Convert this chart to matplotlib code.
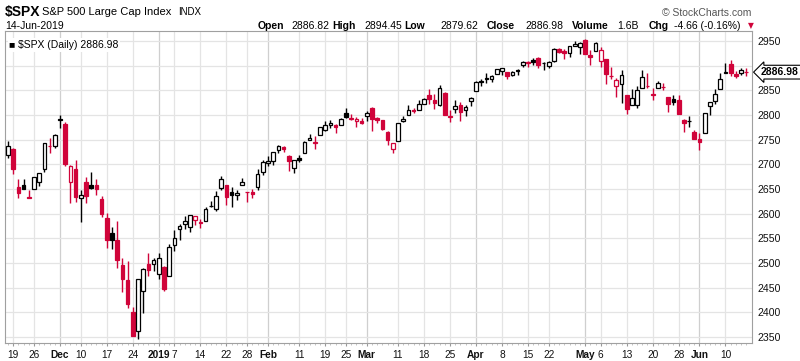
import numpy as np
import matplotlib
matplotlib.use("Agg")
import matplotlib.pyplot as plt
import matplotlib.transforms as mtransforms

plt.rcParams['font.family'] = ['Liberation Sans', 'DejaVu Sans']

# trading days, 16-Nov-2018 .. 14-Jun-2019
dates = (
    ['2018-11-%02d' % d for d in [16, 19, 20, 21, 23, 26, 27, 28, 29, 30]] +
    ['2018-12-%02d' % d for d in [3, 4, 6, 7, 10, 11, 12, 13, 14, 17, 18, 19, 20, 21, 24, 26, 27, 28, 31]] +
    ['2019-01-%02d' % d for d in [2, 3, 4, 7, 8, 9, 10, 11, 14, 15, 16, 17, 18, 22, 23, 24, 25, 28, 29, 30, 31]] +
    ['2019-02-%02d' % d for d in [1, 4, 5, 6, 7, 8, 11, 12, 13, 14, 15, 19, 20, 21, 22, 25, 26, 27, 28]] +
    ['2019-03-%02d' % d for d in [1, 4, 5, 6, 7, 8, 11, 12, 13, 14, 15, 18, 19, 20, 21, 22, 25, 26, 27, 28, 29]] +
    ['2019-04-%02d' % d for d in [1, 2, 3, 4, 5, 8, 9, 10, 11, 12, 15, 16, 17, 18, 22, 23, 24, 25, 26, 29, 30]] +
    ['2019-05-%02d' % d for d in [1, 2, 3, 6, 7, 8, 9, 10, 13, 14, 15, 16, 17, 20, 21, 22, 23, 24, 28, 29, 30, 31]] +
    ['2019-06-%02d' % d for d in [3, 4, 5, 6, 7, 10, 11, 12, 13, 14]]
)

opens = [
    2718.54, 2730.74, 2654.60, 2657.74, 2633.36, 2649.97, 2663.75, 2691.45, 2736.97, 2737.76,
    2790.50, 2782.43, 2663.51, 2691.26, 2630.86, 2664.44, 2658.23, 2658.70, 2629.68, 2590.75,
    2559.90, 2547.05, 2496.77, 2465.38, 2400.56, 2363.12, 2442.50, 2498.77, 2498.94,
    2476.96, 2491.92, 2474.33, 2535.61, 2568.11, 2580.00, 2573.51, 2588.11, 2580.31, 2585.10,
    2614.75, 2609.28, 2651.27, 2657.88, 2643.48, 2638.84, 2657.44, 2644.97, 2644.89, 2653.62, 2685.49,
    2702.32, 2706.49, 2728.34, 2735.05, 2717.53, 2692.36, 2712.40, 2722.61, 2750.30, 2743.50,
    2760.24, 2769.28, 2779.05, 2780.67, 2780.67, 2804.35, 2792.36, 2787.50, 2788.11,
    2798.22, 2814.37, 2794.41, 2790.27, 2766.53, 2730.79, 2747.61, 2787.34, 2799.78, 2810.38,
    2810.79, 2822.61, 2840.76, 2831.34, 2819.72, 2844.52, 2796.01, 2812.66, 2819.72, 2809.40, 2828.27,
    2848.63, 2868.24, 2876.09, 2873.99, 2884.16, 2888.46, 2886.58, 2881.37, 2891.92, 2900.86,
    2908.32, 2912.26, 2916.04, 2904.81, 2898.78, 2909.99, 2934.00, 2928.99, 2925.81, 2940.58, 2937.14,
    2952.33, 2922.16, 2929.21, 2908.89, 2913.03, 2879.61, 2859.84, 2863.10, 2840.19, 2820.12,
    2820.38, 2855.80, 2858.60, 2841.94, 2854.02, 2856.06, 2836.70, 2832.41, 2830.03, 2790.25, 2786.94, 2766.15,
    2751.53, 2762.64, 2818.09, 2828.51, 2852.87, 2885.83, 2903.27, 2882.73, 2886.24, 2886.82,
]
highs = [
    2746.75, 2733.16, 2669.44, 2670.73, 2647.55, 2674.35, 2682.53, 2744.00, 2753.75, 2760.88,
    2800.18, 2785.93, 2697.77, 2708.54, 2647.51, 2674.35, 2685.44, 2670.19, 2635.07, 2601.13,
    2573.99, 2585.29, 2509.63, 2504.41, 2410.34, 2467.76, 2489.10, 2520.27, 2509.24,
    2519.49, 2493.14, 2538.07, 2566.16, 2579.82, 2595.32, 2597.82, 2596.27, 2589.32, 2613.08,
    2625.76, 2645.06, 2675.47, 2657.88, 2653.19, 2647.20, 2672.38, 2644.97, 2650.93, 2690.44, 2708.95,
    2716.66, 2724.99, 2738.98, 2738.08, 2719.32, 2708.07, 2718.05, 2748.19, 2761.85, 2757.90,
    2775.66, 2787.33, 2789.88, 2781.58, 2794.20, 2813.49, 2803.12, 2795.76, 2793.73,
    2808.02, 2816.88, 2796.44, 2790.27, 2767.25, 2744.13, 2784.00, 2798.32, 2821.24, 2815.00,
    2830.73, 2835.41, 2852.42, 2843.54, 2860.31, 2846.16, 2809.79, 2829.87, 2825.56, 2819.71, 2836.03,
    2869.40, 2872.90, 2885.25, 2881.28, 2893.24, 2895.95, 2886.88, 2889.71, 2893.42, 2910.54,
    2909.60, 2916.06, 2918.00, 2908.40, 2909.51, 2936.31, 2936.83, 2933.10, 2939.88, 2949.52, 2948.22,
    2954.13, 2931.68, 2947.85, 2937.32, 2913.03, 2897.96, 2875.97, 2891.31, 2840.19, 2852.54,
    2858.68, 2892.15, 2885.48, 2853.86, 2868.88, 2865.47, 2836.70, 2841.36, 2840.51, 2792.03, 2799.00, 2768.98,
    2763.07, 2804.49, 2827.28, 2852.10, 2884.97, 2904.77, 2910.61, 2888.57, 2895.24, 2894.45,
]
lows = [
    2712.16, 2681.09, 2631.52, 2649.82, 2631.09, 2649.97, 2655.89, 2684.38, 2722.94, 2732.76,
    2773.38, 2697.18, 2621.53, 2623.14, 2583.23, 2621.30, 2650.26, 2637.27, 2593.84, 2530.54,
    2528.71, 2488.96, 2441.18, 2408.55, 2351.10, 2346.58, 2397.94, 2472.89, 2482.82,
    2467.47, 2443.96, 2474.33, 2524.56, 2547.56, 2568.89, 2562.02, 2577.40, 2570.41, 2585.10,
    2612.68, 2606.36, 2647.58, 2617.27, 2612.86, 2627.01, 2657.33, 2624.06, 2631.05, 2648.34, 2678.65,
    2696.88, 2698.75, 2724.03, 2724.15, 2687.26, 2681.83, 2703.79, 2722.61, 2748.63, 2731.23,
    2760.24, 2767.29, 2774.06, 2764.55, 2779.11, 2794.99, 2789.47, 2775.13, 2782.51,
    2787.38, 2767.66, 2782.97, 2768.69, 2739.09, 2722.27, 2747.61, 2786.73, 2799.78, 2803.46,
    2810.79, 2821.99, 2823.27, 2812.43, 2817.38, 2800.47, 2785.02, 2803.99, 2787.72, 2798.77, 2819.23,
    2848.63, 2858.75, 2865.17, 2867.14, 2882.99, 2880.78, 2873.33, 2879.13, 2881.99, 2898.37,
    2896.48, 2900.71, 2895.45, 2891.90, 2896.35, 2908.53, 2926.05, 2912.84, 2917.56, 2939.35, 2924.11,
    2923.36, 2900.50, 2929.21, 2898.21, 2862.60, 2873.28, 2836.40, 2825.39, 2801.43, 2820.12,
    2815.08, 2855.80, 2854.23, 2831.29, 2854.02, 2851.11, 2805.49, 2820.19, 2801.58, 2766.06, 2776.74, 2750.52,
    2728.81, 2762.64, 2800.92, 2822.45, 2852.87, 2885.51, 2878.53, 2874.68, 2881.99, 2879.62,
]
closes = [
    2736.27, 2690.73, 2641.89, 2649.93, 2632.56, 2673.45, 2682.17, 2743.79, 2737.76, 2760.17,
    2790.37, 2700.06, 2695.95, 2633.08, 2637.72, 2636.78, 2651.07, 2650.54, 2599.95, 2545.94,
    2546.16, 2506.96, 2467.42, 2416.62, 2351.10, 2467.70, 2488.83, 2485.74, 2506.85,
    2510.03, 2447.89, 2531.94, 2549.69, 2574.41, 2584.96, 2596.64, 2596.26, 2582.61, 2610.30,
    2616.10, 2635.96, 2670.71, 2632.90, 2638.70, 2642.33, 2664.76, 2643.85, 2640.00, 2681.05, 2704.10,
    2706.53, 2724.87, 2737.70, 2731.61, 2706.05, 2707.88, 2709.80, 2744.73, 2753.03, 2745.73,
    2775.60, 2779.76, 2784.70, 2774.88, 2792.67, 2796.11, 2793.90, 2792.38, 2784.49,
    2803.69, 2792.81, 2789.65, 2771.45, 2748.93, 2743.07, 2783.30, 2791.52, 2810.92, 2808.48,
    2822.48, 2832.94, 2832.57, 2824.23, 2854.88, 2800.71, 2798.36, 2818.46, 2805.37, 2815.44, 2834.40,
    2867.19, 2867.24, 2873.40, 2879.39, 2892.74, 2895.77, 2878.20, 2888.21, 2888.32, 2907.41,
    2905.58, 2907.06, 2900.45, 2905.03, 2907.97, 2933.68, 2927.25, 2926.17, 2939.88, 2943.03, 2945.83,
    2923.73, 2917.52, 2945.64, 2932.47, 2884.05, 2879.42, 2870.72, 2881.40, 2811.87, 2834.41,
    2850.96, 2876.32, 2859.53, 2840.23, 2864.36, 2856.27, 2822.24, 2826.06, 2802.39, 2783.02, 2788.86, 2752.06,
    2744.45, 2803.27, 2826.15, 2843.49, 2873.34, 2886.73, 2885.72, 2879.84, 2891.64, 2886.98,
]
prev_close0 = 2730.20  # close of 15-Nov-2018

tick_dates = ['2018-11-19', '2018-11-26', '2018-12-03', '2018-12-10', '2018-12-17', '2018-12-24',
              '2019-01-02', '2019-01-07', '2019-01-14', '2019-01-22', '2019-01-28', '2019-02-01',
              '2019-02-11', '2019-02-19', '2019-02-25', '2019-03-01', '2019-03-11', '2019-03-18',
              '2019-03-25', '2019-04-01', '2019-04-08', '2019-04-15', '2019-04-22', '2019-05-01',
              '2019-05-06', '2019-05-13', '2019-05-20', '2019-05-28', '2019-06-03', '2019-06-10']
tick_labels = ['19', '26', 'Dec', '10', '17', '24', '2019', '7', '14', '22', '28', 'Feb',
               '11', '19', '25', 'Mar', '11', '18', '25', 'Apr', '8', '15', '22', 'May',
               '6', '13', '20', '28', 'Jun', '10']
bold_labels = ['Dec', '2019', 'Feb', 'Mar', 'Apr', 'May', 'Jun']

y_ticks = [2350, 2400, 2450, 2500, 2550, 2600, 2650, 2700, 2750, 2800, 2850, 2900, 2950]
y_labels = ['2350', '2400', '2450', '2500', '2550', '2600', '2650', '2700', '2750', '2800', '2850', '', '2950']

last_price = 2886.98

RED = '#d0043a'
BLACK = '#000000'

W, H = 800, 361
fig = plt.figure(figsize=(W / 100, H / 100), dpi=100)
ax = fig.add_axes([5 / W, 1 - 343 / H, (752 - 5) / W, (343 - 31) / H])

x = np.arange(len(dates))
o = np.array(opens); h = np.array(highs); l = np.array(lows); c = np.array(closes)
prev = np.concatenate([[prev_close0], c[:-1]])
colors = np.where(c >= prev, BLACK, RED)
filled = c < o

# grid
for d, lab in zip(tick_dates, tick_labels):
    xi = dates.index(d)
    ax.axvline(xi, color='#cfcfcf' if lab in bold_labels else '#e4e4e4', lw=0.9, zorder=0)
for yv in y_ticks:
    ax.axhline(yv, color='#e4e4e4', lw=0.9, zorder=0)

# candles
ax.vlines(x, l, h, colors=colors, lw=1.0, zorder=2)
bottoms = np.minimum(o, c)
heights = np.maximum(np.abs(c - o), 0.6)
face = [col if f else 'white' for col, f in zip(colors, filled)]
ax.bar(x, heights, bottom=bottoms, width=0.7, color=face, edgecolor=colors,
       linewidth=0.9, zorder=3)

ax.set_xlim(-0.58, 143.1)
ax.set_ylim(2337.8, 2970.4)

ax.set_xticks([dates.index(d) for d in tick_dates])
ax.set_xticklabels(tick_labels, fontsize=7.3)
for t in ax.get_xticklabels():
    if t.get_text() in bold_labels:
        t.set_fontweight('bold')
ax.set_xticks(x, minor=True)
ax.tick_params(axis='x', which='major', length=2, color='#999999', pad=3, labelcolor='#111111')
ax.tick_params(axis='x', which='minor', length=1.5, color='#bbbbbb')

ax.yaxis.tick_right()
ax.set_yticks(y_ticks)
ax.set_yticklabels(y_labels, fontsize=7.6)
ax.tick_params(axis='y', length=0, pad=4, labelcolor='#111111')

for s in ax.spines.values():
    s.set_color('#a0a0a0')
    s.set_linewidth(0.8)

# last price marker on the right
trans = mtransforms.blended_transform_factory(ax.transAxes, ax.transData)
ax.text(1.012, last_price, '%.2f' % last_price, transform=trans, ha='left', va='center',
        fontsize=7.5, fontweight='bold', clip_on=False, zorder=5,
        bbox=dict(boxstyle='larrow,pad=0.18', fc='white', ec='black', lw=0.8))

# legend box inside chart
ax.text(0.006, 0.955, '\u25a0 $SPX (Daily) %.2f' % last_price, transform=ax.transAxes,
        ha='left', va='center', fontsize=7.5, zorder=6,
        bbox=dict(boxstyle='square,pad=0.15', fc='white', ec='none'))

# header
def px(xp, yp):
    return xp / W, 1 - yp / H

fig.text(*px(5, 12), '$SPX', fontsize=10, fontweight='bold', va='center')
fig.text(*px(42, 12), 'S&P 500 Large Cap Index', fontsize=8, va='center')
fig.text(*px(178, 12), 'INDX', fontsize=7, va='center')
fig.text(*px(5, 26), '14-Jun-2019', fontsize=7.5, va='center')
fig.text(*px(662, 13), '\u00a9 StockCharts.com', fontsize=7.5, va='center', color='#555555')

header = [(258, 'Open', True), (291, '2886.82', False), (332, 'High', True), (364, '2894.45', False),
          (404, 'Low', True), (440, '2879.62', False), (487, 'Close', True), (525, '2886.98', False),
          (572, 'Volume', True), (617, '1.6B', False), (649, 'Chg', True), (674, '-4.66 (-0.16%)', False)]
for xp, s, b in header:
    fig.text(*px(xp, 26), s, fontsize=7.5, va='center', fontweight='bold' if b else 'normal')
fig.text(*px(748, 26), '\u25bc', fontsize=5.5, va='center', color=RED,
         family=['DejaVu Sans'])

fig.savefig('out.png', dpi=100)
